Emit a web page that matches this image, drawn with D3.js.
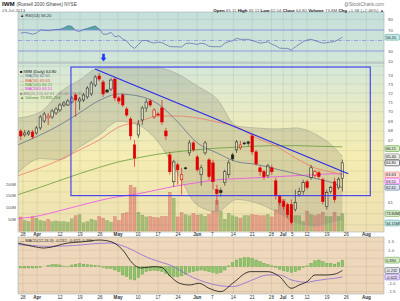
<!DOCTYPE html>
<html><head><meta charset="utf-8">
<script src="https://cdn.jsdelivr.net/npm/d3@7"></script>
<style>body{margin:0;background:#fff;}svg{display:block;font-family:"Liberation Sans",Arial,sans-serif;}</style>
</head><body><svg id="c" width="400" height="301"></svg>
<script>
// ---------- DATA ----------
const openP  = [67.98,67.59,67.69,67.89,67.79,68.31,69.03,69.35,69.45,69.87,70.19,70.72,70.72,71.04,71.80,71.15,71.26,71.59,71.91,72.89,73.89,73.22,72.34,72.45,73.55,71.48,71.80,70.29,69.24,66.58,67.59,69.14,70.40,71.15,69.45,69.76,70.40,67.99,65.58,62.97,64.60,63.16,64.31,65.78,66.78,65.38,63.64,65.78,65.09,64.79,62.22,62.13,62.88,63.64,65.58,66.08,66.28,66.78,66.88,67.49,65.88,64.31,63.93,63.55,64.31,63.06,61.57,61.10,60.83,60.83,60.37,61.75,62.03,62.97,63.35,63.55,63.83,63.16,60.65,62.03,62.97,62.41,63.30];
const highP  = [68.20,68.10,68.10,68.10,68.52,69.66,69.97,69.87,70.29,70.51,70.94,71.15,71.37,71.69,72.02,71.59,72.02,72.78,73.33,74.00,74.22,73.44,72.45,73.66,73.78,71.69,72.02,70.51,69.45,67.08,69.14,70.62,71.37,71.37,70.40,69.97,71.26,68.31,65.88,65.09,64.79,64.31,64.41,67.08,66.98,65.58,64.60,66.98,65.28,65.09,62.69,62.41,64.12,65.09,65.78,67.08,66.98,66.88,66.98,67.69,66.08,64.50,64.12,64.70,64.60,63.35,61.75,61.29,61.01,61.29,62.22,62.41,63.16,63.16,64.60,64.12,64.02,63.35,62.22,62.59,63.35,63.40,65.11];
const lowP   = [67.08,67.39,67.49,67.18,67.59,68.10,68.83,68.62,69.24,69.66,69.97,70.51,70.62,70.83,69.45,70.19,71.04,71.37,71.69,72.67,73.33,71.59,72.02,72.23,71.15,70.83,70.51,69.45,67.08,64.41,67.28,68.62,69.97,70.51,69.24,69.55,68.62,67.08,63.64,62.50,62.69,61.75,64.12,65.48,65.88,63.93,62.59,65.58,63.16,62.22,60.83,61.57,62.59,63.35,64.99,65.78,66.08,66.58,66.48,65.58,64.50,63.55,63.16,63.35,63.64,61.29,60.74,60.37,59.65,59.02,60.19,61.57,61.75,62.22,63.16,63.35,63.26,60.83,60.37,61.84,61.01,62.22,62.04];
const closeP = [67.49,67.79,67.89,67.39,68.31,69.45,69.76,69.55,70.08,70.29,70.72,70.94,71.15,71.48,71.26,71.37,71.80,72.56,73.11,73.78,73.55,71.91,72.12,73.44,71.48,71.15,70.72,69.66,67.49,65.28,68.72,70.40,71.04,70.72,70.19,69.66,68.93,67.49,63.93,64.89,64.12,63.64,64.22,66.78,66.08,64.12,64.31,66.78,63.45,62.97,61.84,61.94,63.93,64.79,65.18,66.88,66.58,66.68,66.73,65.88,64.70,63.93,63.45,64.50,63.93,61.66,61.01,60.65,59.92,59.20,61.01,62.03,62.88,62.41,64.31,63.93,63.45,61.10,61.94,62.41,61.29,63.22,64.80];
const volumeM = [60,45,40,60,55,45,42,50,40,43,40,40,38,52,65,70,35,40,50,45,62,55,45,38,62,45,75,78,195,185,80,68,60,62,58,56,62,62,165,140,60,78,70,65,75,68,70,62,70,85,130,85,50,75,65,60,55,65,65,70,68,65,65,70,60,90,130,135,100,85,65,65,40,85,70,65,70,80,62,62,80,62,74];
const rsi = [64,65.5,64,62,64,70,69.5,68.7,70,71,71.3,74,78,77,69,67,71,73,75.5,77.6,72,62,62,65.5,57,59,53,49,40,35,42,50,50,47,45,47,46,42,38.5,38,38,37.5,44,45,44,42.5,45,43.3,39,38.2,38.2,38.2,45,47.7,49.6,54,52.3,52,52.3,50,47.7,45,46,47.7,43,40,35.5,35,35,32,38,43,47.7,51,52.3,50,47,45,45.8,47,48,52,56.2];
const macdHist = [-0.08,-0.08,-0.08,-0.08,-0.08,-0.05,0,0.08,0.12,0.12,0.1,0.03,0.02,0.1,0.15,0.18,0.15,0.12,0.1,0.08,0.05,-0.05,-0.1,-0.1,-0.2,-0.3,-0.5,-0.6,-0.75,-0.8,-0.65,-0.45,-0.3,-0.25,-0.22,-0.25,-0.3,-0.4,-0.55,-0.6,-0.6,-0.55,-0.45,-0.35,-0.3,-0.25,-0.2,-0.25,-0.3,-0.35,-0.4,-0.35,-0.2,0.05,0.25,0.4,0.5,0.55,0.55,0.5,0.4,0.3,0.2,0.12,0.05,-0.05,-0.15,-0.25,-0.3,-0.35,-0.3,-0.2,-0.05,0.05,0.2,0.35,0.4,0.3,0.2,0.2,0.15,0.25,0.39];

// sampled overlay lines (index positions along the date axis)
const ovIdx   = [-0.7,5,10,15,20,25,30,35,40,45,50,55,60,65,70,75,80,82];
const ma20    = [66.58,67.59,68.62,69.9,71.2,71.9,71.69,70.83,68.93,66.78,65.78,64.91,64.65,64.20,63.75,63.30,62.78,62.40];
const bbUpper = [69.34,69.97,72.12,73.44,74.79,74.79,74.79,74.79,74.11,72.78,71.37,68.52,68.31,68.20,68.31,67.69,66.28,65.40];
const bbLower = [63.82,65.21,65.12,66.36,67.61,69.01,68.59,66.87,63.75,60.78,60.19,61.30,61.00,60.20,59.20,58.90,59.29,59.40];
const ma50    = [63.55,64.31,65.09,66.08,67.08,68.41,68.93,69.55,69.55,69.35,68.93,68.41,67.29,66.48,65.28,64.31,63.83,63.63];
const ma100   = [61.75,62.45,63.10,63.75,64.35,64.90,65.30,65.65,65.90,66.10,66.25,66.35,66.45,66.50,66.50,66.45,66.40,66.38];
const ma200   = [59.55,59.83,60.28,60.74,61.20,61.57,61.84,62.22,62.59,62.88,63.16,63.26,63.35,63.45,63.55,63.64,63.74,63.70];

const macdIdx = [-0.7,3,6,12,16,20,23,26,28.5,30.5,34,36,38,40.5,43,45.5,48,51,54,58.5,63,66,69,71,73,75,78,80,82];
const macdLine = [1.42,1.22,1.12,1.42,1.5,1.6,1.5,1.0,0.2,-0.08,0.0,-0.05,-0.55,-1.0,-1.1,-1.0,-1.3,-1.5,-1.0,-0.3,-0.3,-0.6,-1.3,-1.1,-0.9,-0.5,-0.5,-0.45,-0.23];
const macdSignal = [1.32,1.28,1.22,1.25,1.32,1.4,1.42,1.25,1.0,0.75,0.4,0.25,0.1,-0.2,-0.55,-0.8,-1.0,-1.15,-1.2,-0.85,-0.5,-0.5,-0.8,-0.9,-0.94,-0.85,-0.75,-0.7,-0.62];

const tickIdx = [0.6,4.2,10,15.1,20.2,24.8,29.9,35,40.1,45,48.8,54.2,59,63.9,66.9,69.2,73,78.1,83,88.1];
const tickLbl = ["28","Apr","12","19","26","May","10","17","24","Jun","7","14","21","28","Jul","5","12","19","26","Aug"];
const priceTicks = [59,60,61,62,63,64,65,66,67,68,69,70,71,72,73,74,75];
const volTicks = [50,100,150,200];
const rsiTicks = [10,30,50,70,90];
const macdTicks = [1.5,1.0,0.5,0.0,-0.5,-1.0,-1.5];

// right-side value boxes
const priceBoxes = [
  {v:66.21, s:"66.21", st:"#5e9a34", f:"#d6ecc6"},
  {v:65.40, s:"65.40", st:"#8a8a80", f:"#e8e8e0"},
  {v:64.80, s:"64.80", st:"#222", f:"#f2f2f2"},
  {v:63.63, s:"63.63", st:"#f07565", f:"#fbe0dc"},
  {v:63.51, s:"63.51", st:"#ee44ee", f:"#fbe0fb"},
  {v:62.61, s:"62.61", st:"#5d6e8e", f:"#dde4f0"}
];
const volBoxes = [{v:73.8, s:"73.84M", st:"#6aa54c", f:"#d6ecc6"},{v:34, s:"34.15M", st:"#5aa8a0", f:"#c6ebe6"}];
const macdBoxes = [
  {v:0.39, s:"0.390", st:"#6aa54c", f:"#d6ecc6"},
  {v:-0.232, s:"-0.232", st:"#555", f:"#e8eef4"},
  {v:-0.622, s:"-0.622", st:"#8e6ad8", f:"#e4dcf6"}
];
const rsiBoxes = [{v:56.2, s:"56.20", st:"#5aa8a0", f:"#c6ebe6"}];

// annotations (in data coordinates)
const boxIdx = [12.8, 89.1], boxPrice = [74.9, 61.66];
const trendIdx = [18.95, 83.5], trendPrice = [74.67, 63.74];
const arrowIdx = 21.1, arrowPrice = 75.5;

// ---------- LAYOUT ----------
const L = 18, R = 384;
const rsiT = 12, rsiB = 63, prT = 63, prB = 232, mT = 237, mB = 294;
const svg = d3.select("#c");
const x = d3.scaleLinear().domain([-0.7, 92.6]).range([L, R]);
const yP = d3.scaleLog().domain([58.36, 75.36]).range([prB, prT]);
const yV = d3.scaleLinear().domain([0, 200]).range([231, 184]);
const yR = d3.scaleLinear().domain([30, 70]).range([51, 30]);
const yM = d3.scaleLinear().domain([-1, 1.5]).range([283.3, 241.7]);
const N = closeP.length, idx = d3.range(N);

const defs = svg.append("defs");
function grad(id, stops){
  const g = defs.append("linearGradient").attr("id", id).attr("x1",0).attr("x2",0).attr("y1",0).attr("y2",1);
  stops.forEach(s => g.append("stop").attr("offset", s[0]).attr("stop-color", s[1]));
}
grad("gR", [[0,"#c4e0da"],[1,"#d3e6d8"]]);
grad("gP", [[0,"#d3e7da"],[0.3,"#e9ebc2"],[0.55,"#f5edb2"],[1,"#eee0b2"]]);
grad("gM", [[0,"#efd8bb"],[1,"#ecd5b8"]]);
function clip(id, t, b){ defs.append("clipPath").attr("id", id).append("rect").attr("x",L).attr("y",t).attr("width",R-L).attr("height",b-t); }
clip("cR", rsiT, rsiB); clip("cP", prT, prB); clip("cM", mT, mB);
defs.append("clipPath").attr("id","cR70").append("rect").attr("x",L).attr("y",rsiT).attr("width",R-L).attr("height",yR(70)-rsiT);

// backgrounds
svg.append("rect").attr("x",L).attr("y",rsiT).attr("width",R-L).attr("height",rsiB-rsiT).attr("fill","url(#gR)");
svg.append("rect").attr("x",L).attr("y",prT).attr("width",R-L).attr("height",prB-prT).attr("fill","url(#gP)");
svg.append("rect").attr("x",L).attr("y",mT).attr("width",R-L).attr("height",mB-mT).attr("fill","url(#gM)");

const gridC = "rgba(110,120,100,0.22)";
[[rsiT,rsiB],[prT,prB],[mT,mB]].forEach(([t,b]) => {
  svg.append("g").selectAll("line").data(tickIdx).join("line")
    .attr("x1",d=>x(d)).attr("x2",d=>x(d)).attr("y1",t).attr("y2",b)
    .attr("stroke",gridC).attr("stroke-width",0.6);
});
svg.append("g").selectAll("line").data(priceTicks).join("line")
  .attr("x1",L).attr("x2",R).attr("y1",d=>yP(d)).attr("y2",d=>yP(d)).attr("stroke",gridC).attr("stroke-width",0.6);
svg.append("g").selectAll("line").data(macdTicks).join("line")
  .attr("x1",L).attr("x2",R).attr("y1",d=>yM(d)).attr("y2",d=>yM(d)).attr("stroke",gridC).attr("stroke-width",0.6);
svg.append("g").selectAll("line").data([10,90]).join("line")
  .attr("x1",L).attr("x2",R).attr("y1",d=>yR(d)).attr("y2",d=>yR(d)).attr("stroke",gridC).attr("stroke-width",0.6);

// ---------- RSI ----------
const gR = svg.append("g").attr("clip-path","url(#cR)");
const rsiPts = idx.map(i => [i, rsi[i]]);
gR.append("path").datum(rsiPts).attr("clip-path","url(#cR70)")
  .attr("d", d3.area().x(d=>x(d[0])).y0(yR(70)).y1(d=>yR(d[1]))).attr("fill","#52a89c");
gR.append("line").attr("x1",L).attr("x2",R).attr("y1",yR(70)).attr("y2",yR(70)).attr("stroke","#7f86de").attr("stroke-width",0.8);
gR.append("line").attr("x1",L).attr("x2",R).attr("y1",yR(30)).attr("y2",yR(30)).attr("stroke","#7f86de").attr("stroke-width",0.8);
gR.append("line").attr("x1",L).attr("x2",R).attr("y1",yR(50)).attr("y2",yR(50)).attr("stroke","#7f86de").attr("stroke-width",0.7).attr("stroke-dasharray","4,1.5,1,1.5");
gR.append("path").datum(rsiPts).attr("d", d3.line().x(d=>x(d[0])).y(d=>yR(d[1]))).attr("fill","none").attr("stroke","#5466b0").attr("stroke-width",0.7);

// ---------- PRICE ----------
const gP = svg.append("g").attr("clip-path","url(#cP)");
const isRed = i => i === 0 ? true : closeP[i] < closeP[i-1];
gP.append("g").selectAll("rect").data(idx).join("rect")
  .attr("x", i => x(i)-1.5).attr("width", 3)
  .attr("y", i => yV(volumeM[i])).attr("height", i => yV(0)-yV(volumeM[i]))
  .attr("fill", i => isRed(i) ? "rgba(214,80,80,0.45)" : "rgba(110,160,70,0.55)")
  .attr("stroke", i => isRed(i) ? "rgba(190,70,70,0.5)" : "rgba(90,140,60,0.5)").attr("stroke-width",0.4);
const ov = ovIdx.map((d,k)=>({i:d, u:bbUpper[k], l:bbLower[k], m20:ma20[k], m50:ma50[k], m100:ma100[k], m200:ma200[k]}));
gP.append("path").datum(ov).attr("d", d3.area().curve(d3.curveMonotoneX).x(d=>x(d.i)).y0(d=>yP(d.l)).y1(d=>yP(d.u)))
  .attr("fill","rgba(105,105,95,0.2)");
["u","l"].forEach(k => gP.append("path").datum(ov).attr("d", d3.line().curve(d3.curveMonotoneX).x(d=>x(d.i)).y(d=>yP(d[k])))
  .attr("fill","none").attr("stroke","#a2a294").attr("stroke-width",0.6));
[["m200","#ee44ee"],["m100","#5e9a34"],["m50","#f07565"],["m20","#5d6e8e"]].forEach(([k,c]) =>
  gP.append("path").datum(ov).attr("d", d3.line().curve(d3.curveMonotoneX).x(d=>x(d.i)).y(d=>yP(d[k])))
    .attr("fill","none").attr("stroke",c).attr("stroke-width",0.75));
const bw = 2.5;
const cg = gP.append("g");
idx.forEach(i => {
  const col = isRed(i) ? "#e00000" : "#222";
  const hollow = closeP[i] >= openP[i];
  const top = yP(Math.max(openP[i], closeP[i])), bot = yP(Math.min(openP[i], closeP[i]));
  const xc = x(i);
  cg.append("line").attr("x1",xc).attr("x2",xc).attr("y1",yP(highP[i])).attr("y2",top).attr("stroke",col).attr("stroke-width",0.6);
  cg.append("line").attr("x1",xc).attr("x2",xc).attr("y1",bot).attr("y2",yP(lowP[i])).attr("stroke",col).attr("stroke-width",0.6);
  cg.append("rect").attr("x",xc-bw/2).attr("y",top).attr("width",bw).attr("height",Math.max(0.8,bot-top))
    .attr("fill", hollow ? "rgba(255,255,240,0.25)" : col).attr("stroke",col).attr("stroke-width",0.55);
});
svg.append("rect").attr("x",x(boxIdx[0])).attr("y",yP(boxPrice[0])).attr("width",x(boxIdx[1])-x(boxIdx[0]))
  .attr("height",yP(boxPrice[1])-yP(boxPrice[0])).attr("fill","none").attr("stroke","#3a3af0").attr("stroke-width",1.1);
svg.append("line").attr("x1",x(trendIdx[0])).attr("y1",yP(trendPrice[0])).attr("x2",x(trendIdx[1])).attr("y2",yP(trendPrice[1]))
  .attr("stroke","#2a2ae8").attr("stroke-width",1.1);
{
  const ax = x(arrowIdx), ay = yP(arrowPrice);
  svg.append("path").attr("d",`M${ax-1.3},${ay-8}h2.6v4h1.6l-2.9,3.8l-2.9,-3.8h1.6z`).attr("fill","#1a3cff");
}

// ---------- MACD ----------
const gM = svg.append("g").attr("clip-path","url(#cM)");
gM.append("g").selectAll("rect").data(idx).join("rect")
  .attr("x", i => x(i)-1.3).attr("width", 2.6)
  .attr("y", i => Math.min(yM(0), yM(macdHist[i]))).attr("height", i => Math.abs(yM(macdHist[i])-yM(0)))
  .attr("fill","#8cc46a").attr("stroke","#6aa54c").attr("stroke-width",0.4);
const mPts = macdIdx.map((d,k)=>({i:d, m:macdLine[k], s:macdSignal[k]}));
gM.append("path").datum(mPts).attr("d", d3.line().curve(d3.curveMonotoneX).x(d=>x(d.i)).y(d=>yM(d.s))).attr("fill","none").attr("stroke","#8e6ad8").attr("stroke-width",0.8);
gM.append("path").datum(mPts).attr("d", d3.line().curve(d3.curveMonotoneX).x(d=>x(d.i)).y(d=>yM(d.m))).attr("fill","none").attr("stroke","#111").attr("stroke-width",0.8);

[[rsiT,rsiB],[prT,prB],[mT,mB]].forEach(([t,b]) =>
  svg.append("rect").attr("x",L).attr("y",t).attr("width",R-L).attr("height",b-t).attr("fill","none").attr("stroke","#a9b3b8").attr("stroke-width",0.6));

// ---------- TEXT ----------
const fs = 4.4;
function txt(xx, yy, s, opt={}){
  return svg.append("text").attr("x",xx).attr("y",yy).text(s).attr("font-size",opt.fs||fs)
    .attr("fill",opt.c||"#333").attr("text-anchor",opt.a||"start").attr("font-weight",opt.w||"normal");
}
function layout(list, scale, gap){
  list.forEach(d => d.y = scale(d.v));
  list.sort((a,b)=>a.y-b.y);
  for (let k=1;k<list.length;k++) if (list[k].y < list[k-1].y + gap) list[k].y = list[k-1].y + gap;
  return list;
}
const allBoxes = [...layout(rsiBoxes,yR,6.2), ...layout(priceBoxes,yP,6.2), ...layout(volBoxes,yV,6.2), ...layout(macdBoxes,yM,6.2)];
const free = yy => allBoxes.every(b => Math.abs(b.y - yy) > 5.6);
// right axis labels (hidden where a value box sits)
rsiTicks.forEach(v => { if (free(yR(v))) txt(388, yR(v)+1.5, String(v), {c:"#555"}); });
priceTicks.filter(v=>v<=74).forEach(v => { if (free(yP(v))) txt(388, yP(v)+1.5, String(v), {c:"#555"}); });
macdTicks.forEach(v => { if (free(yM(v))) txt(388, yM(v)+1.5, v.toFixed(1), {c:"#555"}); });
allBoxes.forEach(d => {
  svg.append("rect").attr("x",385).attr("y",d.y-2.9).attr("width",14.5).attr("height",5.8).attr("rx",1)
    .attr("fill",d.f).attr("stroke",d.st).attr("stroke-width",0.6);
  txt(386, d.y+1.5, d.s, {c:"#222", fs:4.0});
});
volTicks.forEach(v => txt(16, yV(v)+1.5, v+"M", {a:"end", c:"#555", fs:4.1}));
[236.3, 298.8].forEach(by => tickIdx.forEach((t,k) => txt(x(t), by, tickLbl[k], {a:"middle", c:"#333", w: isNaN(+tickLbl[k]) ? "bold":"normal", fs:4.6})));

txt(20, 16.8, "\u25B2 RSI(14) 56.20", {c:"#334", fs:4.2});
const leg = [
  ["\u25A0 IWM (Daily) 64.80", "#111"],
  ["\u2014 MA(20) 62.61", "#5d6e8e"],
  ["\u2014 MA(50) 63.63", "#e05545"],
  ["\u2014 MA(100) 66.21", "#5e9a34"],
  ["\u2014 MA(200) 63.51", "#e030e0"],
  ["\u25A0 BB(20,2.0) 62.61 - 65.40 - 59.82", "#8a8a80"],
  ["\u25B2 Volume 73,835,264", "#4e8a30"]
];
leg.forEach((d,k) => txt(20, 72.6 + k*4.45, d[0], {c:d[1], fs:4.1}));
txt(20, 241.8, "\u2014 MACD(12,26,9) -0.232, -0.622, 0.390", {c:"#333", fs:4.1});

const h1 = svg.append("text").attr("x",2).attr("y",6.2).attr("font-size",6.2).attr("fill","#111");
h1.append("tspan").attr("font-weight","bold").text("IWM ");
h1.append("tspan").attr("font-size",4.6).attr("fill","#444").text("(Russell 2000 iShares) NYSE");
txt(2, 11.5, "23-Jul-2013", {c:"#555", fs:4.4});
txt(384, 5.5, "@StockCharts.com", {a:"end", c:"#777", fs:4.6});
const h2 = svg.append("text").attr("x",384).attr("y",11.5).attr("font-size",4.4).attr("fill","#444").attr("text-anchor","end");
[["Open ",1],["65.11  ",0],["High ",1],["65.11  ",0],["Low ",1],["62.04  ",0],["Close ",1],["64.80  ",0],["Volume ",1],["73.8M  ",0],["Chg ",1],["+1.58 (+2.46%) \u25B2",0]]
  .forEach(([s,b]) => h2.append("tspan").attr("font-weight", b ? "bold" : "normal").attr("fill", b ? "#111" : "#555").text(s));
</script></body></html>
